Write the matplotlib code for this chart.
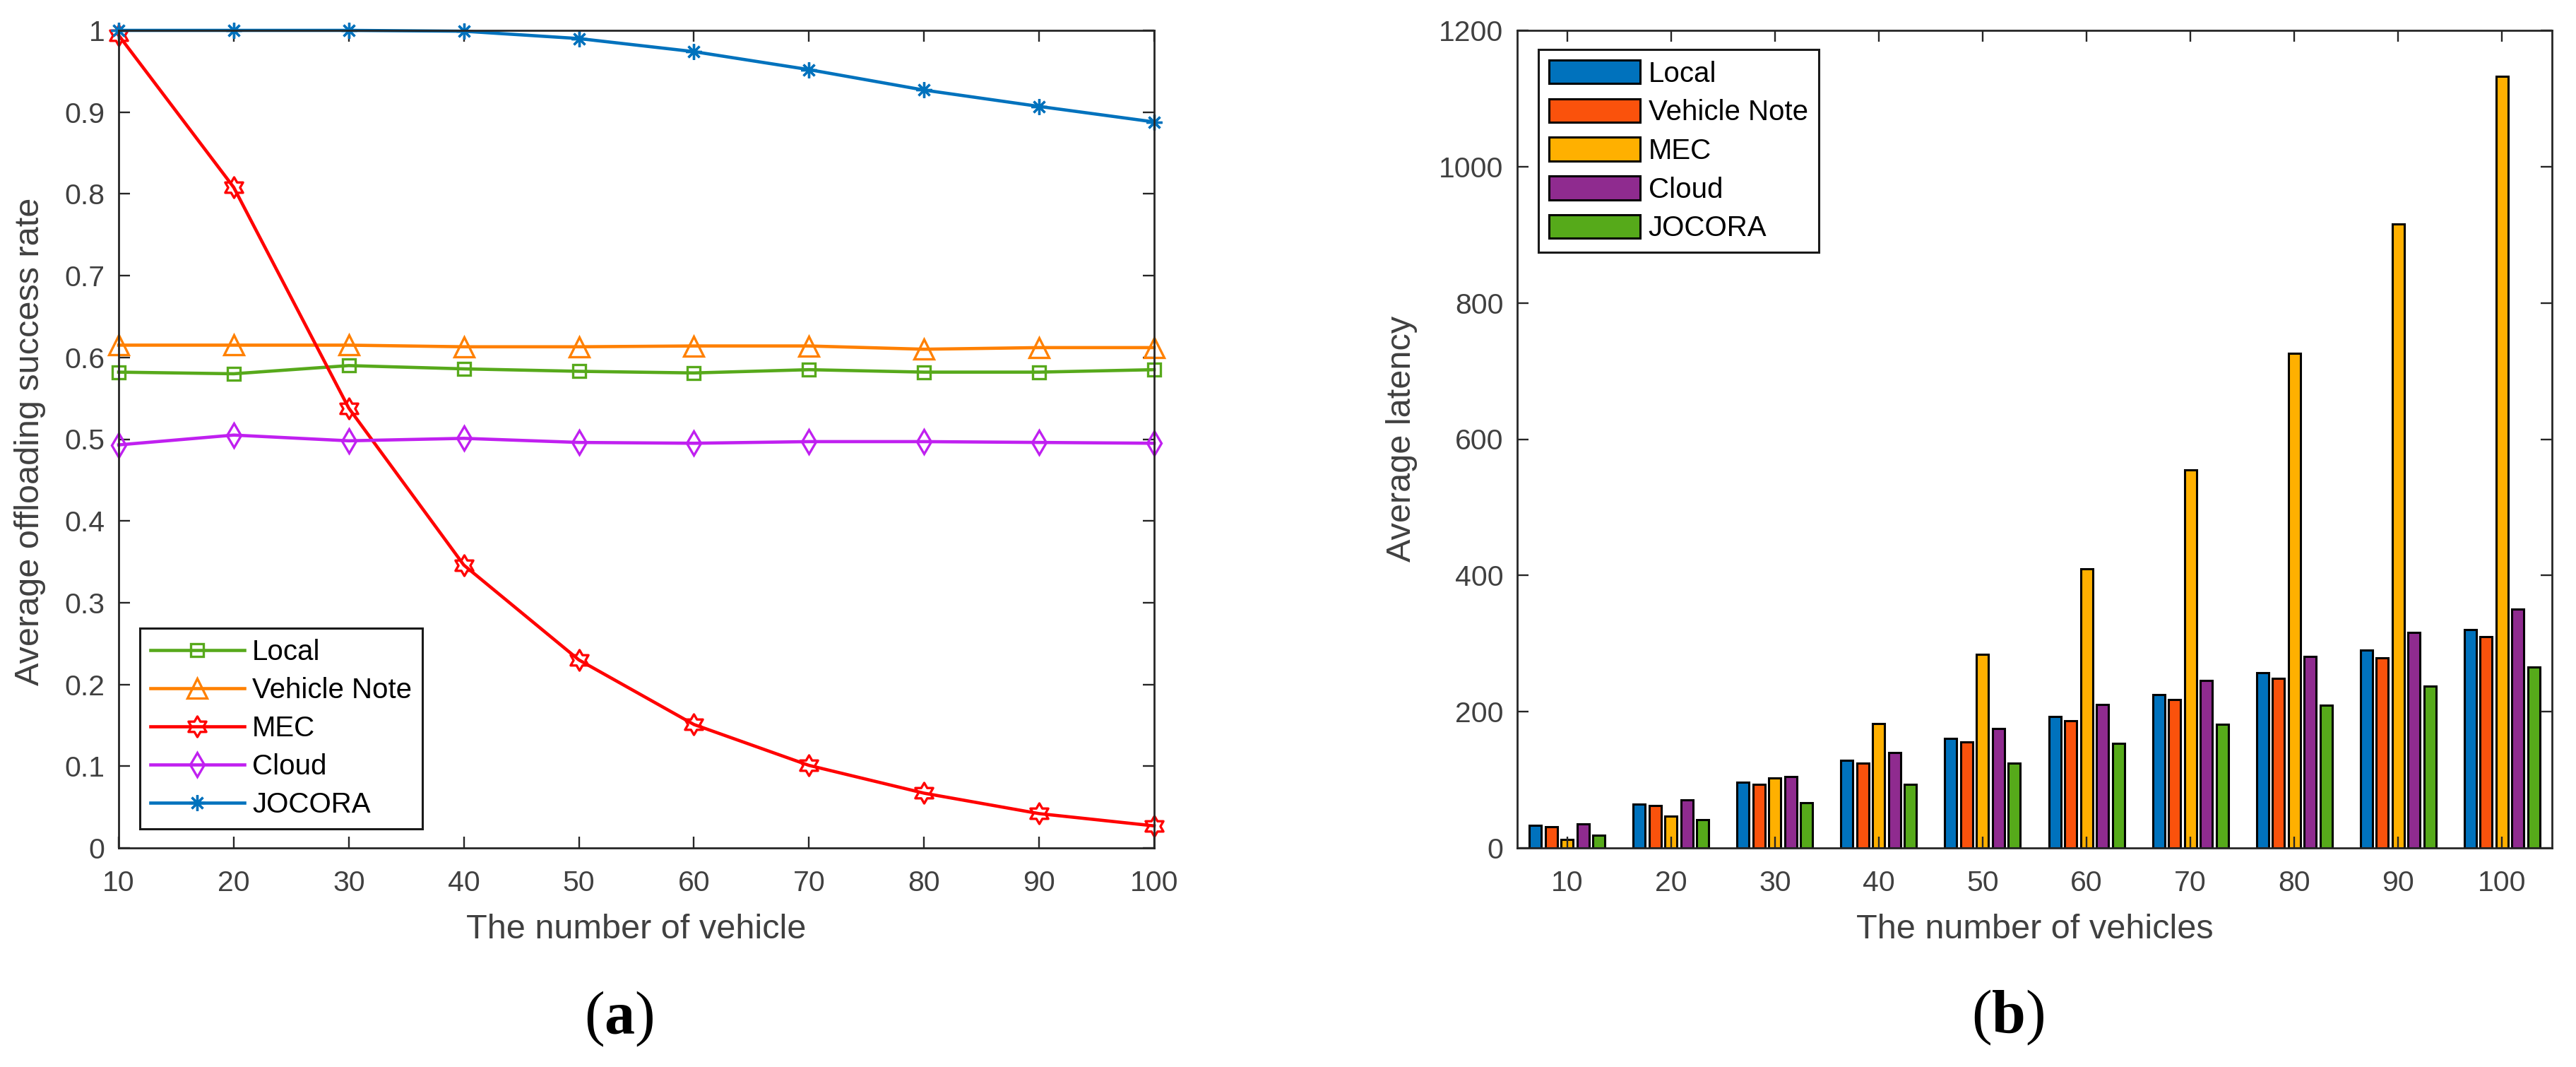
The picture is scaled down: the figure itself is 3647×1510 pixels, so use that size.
import numpy as np
import matplotlib
matplotlib.use("Agg")
import matplotlib.pyplot as plt
from matplotlib.path import Path

plt.rcParams['font.family'] = ['Liberation Sans', 'DejaVu Sans']
plt.rcParams['mathtext.fontset'] = 'custom'
plt.rcParams['mathtext.rm'] = 'Liberation Serif'
plt.rcParams['mathtext.bf'] = 'Liberation Serif:bold'

# ---------------- data ----------------
vehicles = [10, 20, 30, 40, 50, 60, 70, 80, 90, 100]
series_names = ["Local", "Vehicle Note", "MEC", "Cloud", "JOCORA"]

# (a) average offloading success rate
rate_local = [0.582, 0.580, 0.590, 0.586, 0.583, 0.581, 0.585, 0.582, 0.582, 0.585]
rate_vehicle = [0.615, 0.615, 0.615, 0.613, 0.613, 0.614, 0.614, 0.610, 0.612, 0.612]
rate_mec = [0.994, 0.808, 0.538, 0.346, 0.230, 0.151, 0.101, 0.067, 0.042, 0.027]
rate_cloud = [0.493, 0.505, 0.498, 0.501, 0.496, 0.495, 0.497, 0.497, 0.496, 0.495]
rate_jocora = [1.000, 1.000, 1.000, 0.999, 0.990, 0.974, 0.952, 0.927, 0.907, 0.888]

# (b) average latency
lat_local = [33, 64, 96, 129, 161, 193, 225, 257, 290, 321]
lat_vehicle = [31, 62, 93, 124, 156, 187, 218, 249, 279, 310]
lat_mec = [12, 47, 103, 183, 284, 410, 555, 726, 916, 1133]
lat_cloud = [35, 71, 105, 140, 175, 211, 246, 281, 316, 351]
lat_jocora = [19, 41, 66, 93, 124, 153, 182, 210, 238, 266]

yticks_a = [0, 0.1, 0.2, 0.3, 0.4, 0.5, 0.6, 0.7, 0.8, 0.9, 1]
yticklabels_a = ["0", "0.1", "0.2", "0.3", "0.4", "0.5", "0.6", "0.7", "0.8", "0.9", "1"]
yticks_b = [0, 200, 400, 600, 800, 1000, 1200]

# ---------------- styles ----------------
line_colors = ["#57A91B", "#FF8000", "#FF0000", "#C020F0", "#0072BD"]
bar_colors = ["#0072BD", "#FA520C", "#FFB000", "#8F2B8F", "#56AA1A"]
tick_color = "#404040"
spine_color = "#262626"

# hexagram marker (MATLAB 'h')
ang = np.pi / 2 + np.arange(12) * np.pi / 6
rad = np.where(np.arange(12) % 2 == 0, 0.5, 0.5 / np.sqrt(3))
hex_verts = np.column_stack([rad * np.cos(ang), rad * np.sin(ang)])
hex_verts = np.vstack([hex_verts, hex_verts[:1]])
hexagram = Path(hex_verts, [Path.MOVETO] + [Path.LINETO] * 11 + [Path.CLOSEPOLY])

markers = ["s", "^", hexagram, "d", (8, 2, 0)]
msizes = [13, 20, 21, 17, 16]

fig = plt.figure(figsize=(36.48, 15.10), dpi=100)
W, H = 3648, 1510
ax1 = fig.add_axes([168 / W, (H - 1200) / H, 1466 / W, 1157 / H])
ax2 = fig.add_axes([2148 / W, (H - 1200) / H, 1465 / W, 1157 / H])

TICK_FS = 29.5
LABEL_FS = 35
LEG_FS = 29


def style_axes(ax):
    for s in ax.spines.values():
        s.set_linewidth(2.0)
        s.set_color(spine_color)
    ax.tick_params(axis='both', which='both', direction='in', length=11.5, width=1.7,
                   color=spine_color, top=True, right=True, labelsize=TICK_FS,
                   labelcolor=tick_color)
    ax.tick_params(axis='x', pad=22)
    ax.tick_params(axis='y', pad=14)


# ---------------- (a) ----------------
rates = [rate_local, rate_vehicle, rate_mec, rate_cloud, rate_jocora]
for name, vals, c, m, ms in zip(series_names, rates, line_colors, markers, msizes):
    ax1.plot(vehicles, vals, color=c, lw=3.3, marker=m, ms=ms, mfc='none',
             mec=c, mew=2.4, label=name, clip_on=False)
ax1.set_xlim(10, 100)
ax1.set_ylim(0, 1)
ax1.set_xticks(vehicles)
ax1.set_xticklabels([str(v) for v in vehicles])
ax1.set_yticks(yticks_a)
ax1.set_yticklabels(yticklabels_a)
style_axes(ax1)
ax1.set_xlabel("The number of vehicle", fontsize=LABEL_FS, color=tick_color, va='center')
ax1.set_ylabel("Average offloading success rate", fontsize=LABEL_FS, color=tick_color, va='center')
ax1.xaxis.set_label_coords(0.5, -(1316 - 1200) / 1157)
ax1.yaxis.set_label_coords((43 - 168) / 1466, (1200 - 625) / 1157)
leg1 = ax1.legend(loc='lower left', bbox_to_anchor=((198 - 168) / 1466, (1200 - 1173) / 1157),
                  borderaxespad=0, fontsize=LEG_FS, handlelength=3.3, handletextpad=0.28,
                  labelspacing=0.4, borderpad=0.37, fancybox=False, framealpha=1,
                  edgecolor='#1a1a1a')
leg1.get_frame().set_linewidth(2.2)

# ---------------- (b) ----------------
lats = [lat_local, lat_vehicle, lat_mec, lat_cloud, lat_jocora]
pitch = 1.53
bw = 1.16
x = np.array(vehicles, dtype=float)
for i, (name, vals, c) in enumerate(zip(series_names, lats, bar_colors)):
    ax2.bar(x + (i - 2) * pitch, vals, width=bw, color=c, edgecolor='black',
            linewidth=2.2, label=name, zorder=1)
ax2.set_xlim(5.2, 104.8)
ax2.set_ylim(0, 1200)
ax2.set_xticks(vehicles)
ax2.set_xticklabels([str(v) for v in vehicles])
ax2.set_yticks(yticks_b)
ax2.set_yticklabels([str(v) for v in yticks_b])
style_axes(ax2)
ax2.set_xlabel("The number of vehicles", fontsize=LABEL_FS, color=tick_color, va='center')
ax2.set_ylabel("Average latency", fontsize=LABEL_FS, color=tick_color, va='center')
ax2.xaxis.set_label_coords(0.5, -(1316 - 1200) / 1157)
ax2.yaxis.set_label_coords((1985 - 2148) / 1465, (1200 - 621) / 1157)
leg2 = ax2.legend(loc='upper left', bbox_to_anchor=((2178 - 2148) / 1465, (1200 - 70) / 1157),
                  borderaxespad=0, fontsize=LEG_FS, handlelength=3.2, handleheight=0.9,
                  handletextpad=0.3, labelspacing=0.4, borderpad=0.37, fancybox=False,
                  framealpha=1, edgecolor='#1a1a1a')
leg2.get_frame().set_linewidth(2.2)

# panel labels
fig.text(876 / W, 1 - 1442 / H, r"$\mathrm{(}\mathbf{a}\mathrm{)}$", fontsize=62,
         ha='center', va='center')
fig.text(2843 / W, 1 - 1440 / H, r"$\mathrm{(}\mathbf{b}\mathrm{)}$", fontsize=62,
         ha='center', va='center')

fig.savefig("out.png", dpi=100, facecolor='white')
